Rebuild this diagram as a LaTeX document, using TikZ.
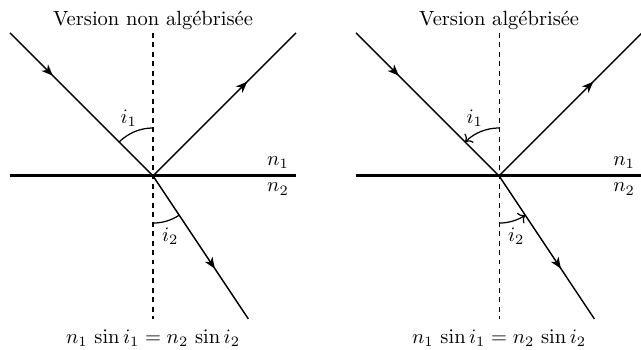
\documentclass[tikz,border=0pt]{standalone}
\usetikzlibrary{arrows.meta,decorations.markings}
\begin{document}
\begin{tikzpicture}[x=1.224cm,y=1.224cm,
  ray/.style={line width=0.7pt},
  interface/.style={line width=1.4pt},
  normalline/.style={line width=0.5pt,dash pattern=on 2.4pt off 2.2pt},
  anglearc/.style={line width=0.6pt},
  markat/.style={postaction={decorate},decoration={markings,mark=at position #1 with {\arrow{Stealth[length=5.5pt,width=4.4pt,inset=1.6pt]}}}},
  ]
\useasboundingbox (-2.14,-2.43) rectangle (6.825,2.46);
% ---------- left diagram ----------
\coordinate (LO) at (0,0);
\coordinate (LA) at (-2,2);
\coordinate (LB) at (2,2);
\coordinate (LC) at (1.333,-2);
\coordinate (LT) at (0,2);
\coordinate (LD) at (0,-2);
\coordinate (LW) at (-2,0);
\coordinate (LE) at (2,0);
\draw[normalline] (LT) -- (LD);
\draw[interface] (LW) -- (LE);
\draw[ray,markat=0.3] (LA) -- (LO);
\draw[ray,markat=0.66] (LO) -- (LB);
\draw[ray,markat=0.65] (LO) -- (LC);
\draw[anglearc] ([shift={(90:0.67)}]LO) arc[start angle=90,end angle=135,radius=0.67];
\draw[anglearc] ([shift={(270:0.66)}]LO) arc[start angle=270,end angle=303.69,radius=0.66];
\node (Li1) at (-0.34,0.8) {$i_1$};
\node (Li2) at (0.24,-0.85) {$i_2$};
\node[above left] (Ln1) at (LE) {$n_1$};
\node[below left] (Ln2) at (LE) {$n_2$};
\node (Lt) at (0,2.18) {Version non algébrisée};
\node (Lf) at (0,-2.27) {$n_1\,\sin i_1 = n_2\,\sin i_2$};
% ---------- right diagram ----------
\begin{scope}[shift={(4.84,0)}]
\coordinate (RO) at (0,0);
\coordinate (RA) at (-2,2);
\coordinate (RB) at (2,2);
\coordinate (RC) at (1.333,-2);
\coordinate (RT) at (0,2);
\coordinate (RD) at (0,-2);
\coordinate (RW) at (-2,0);
\coordinate (RE) at (2,0);
\draw[normalline] (RT) -- (RD);
\draw[interface] (RW) -- (RE);
\draw[ray,markat=0.3] (RA) -- (RO);
\draw[ray,markat=0.66] (RO) -- (RB);
\draw[ray,markat=0.65] (RO) -- (RC);
\draw[anglearc,->] ([shift={(90:0.67)}]RO) arc[start angle=90,end angle=135,radius=0.67];
\draw[anglearc,->] ([shift={(270:0.66)}]RO) arc[start angle=270,end angle=303.69,radius=0.66];
\node (Ri1) at (-0.34,0.8) {$i_1$};
\node (Ri2) at (0.24,-0.85) {$i_2$};
\node[above left] (Rn1) at (RE) {$n_1$};
\node[below left] (Rn2) at (RE) {$n_2$};
\node (Rt) at (0,2.18) {Version algébrisée};
\node (Rf) at (0,-2.27) {$n_1\,\sin i_1 = n_2\,\sin i_2$};
\end{scope}
\end{tikzpicture}
\end{document}
